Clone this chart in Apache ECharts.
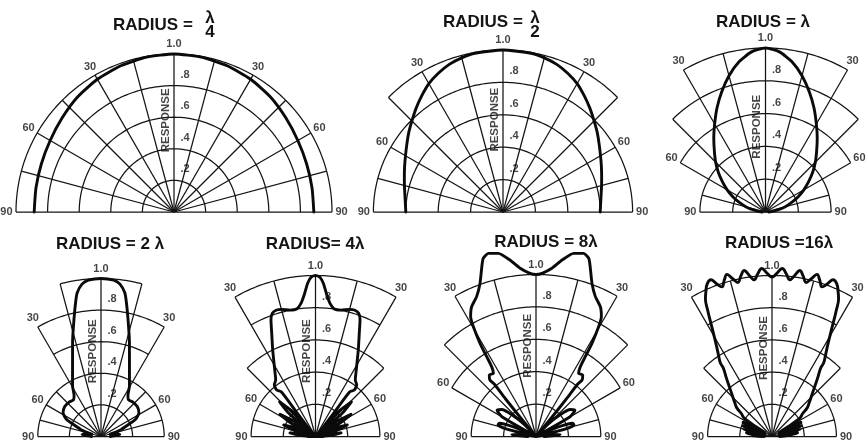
<!DOCTYPE html>
<html>
<head>
<meta charset="utf-8">
<script src="https://cdn.jsdelivr.net/npm/echarts@6/dist/echarts.min.js"></script>
<style>
html,body{margin:0;padding:0;background:#ffffff;}
#chart{width:868px;height:443px;}
</style>
</head>
<body>
<div id="chart"></div>
<script>
// ---------------- data ----------------
const tickValues = [0.2, 0.4, 0.6, 0.8];
const tickLabels = ['.2', '.4', '.6', '.8'];
const topTickValue = 1.0;
const topTickLabel = '1.0';
const degreeAngles = [30, 60];
const degreeLabels = ['30', '60'];
const edgeLabel = '90';
const axisTitle = 'RESPONSE';

// curve of each panel: angle (deg from axis) and response, right half, in drawing order
const ang1 = [0, 10, 20, 30, 40, 50, 60, 70, 80, 90];
const res1 = [1.0, 0.995, 0.985, 0.97, 0.95, 0.925, 0.905, 0.893, 0.887, 0.885];

const ang2 = [0, 10, 15, 20, 25, 30, 35, 40, 45, 50, 55, 60, 65, 70, 75, 80, 85, 90];
const res2 = [1.0, 0.995, 0.985, 0.97, 0.945, 0.915, 0.875, 0.835, 0.795, 0.76, 0.725, 0.695, 0.67, 0.648, 0.63, 0.615, 0.605, 0.60];

const ang3 = [0, 5, 10, 15, 20, 25, 30, 35, 40, 45, 50, 55, 60, 65, 70, 75, 80, 85, 90];
const res3 = [1.0, 0.98, 0.93, 0.86, 0.78, 0.70, 0.62, 0.55, 0.485, 0.43, 0.375, 0.32, 0.27, 0.22, 0.17, 0.125, 0.08, 0.045, 0.02];

const ang4 = [0, 4.6, 7.1, 9.4, 10.7, 12.8, 16.7, 21.8, 29.4, 33.2, 37, 42.3, 50.4, 58, 63.4, 66, 71.6, 76, 80, 84, 87, 90];
const res4 = [1.0, 0.993, 0.972, 0.922, 0.865, 0.769, 0.626, 0.485, 0.367, 0.311, 0.29, 0.297, 0.298, 0.283, 0.246, 0.197, 0.126, 0.06, 0.1, 0.12, 0.08, 0.06];

const ang5 = [0, 1.6, 3.0, 4.5, 6.3, 8.4, 11.4, 14.9, 17.1, 19.3, 20.9, 23, 26.3, 30.5, 35.2, 38.6, 39.9, 37.5, 37.7, 38.6, 40,
              43, 46, 49, 52, 55, 58, 61, 64, 67, 70, 73, 76, 79, 82, 85, 88, 90];
const res5 = [1.0, 0.99, 0.95, 0.885, 0.83, 0.80, 0.801, 0.817, 0.822, 0.811, 0.775, 0.696, 0.6, 0.503, 0.429, 0.41, 0.376, 0.35, 0.208, 0.105, 0.0,
              0.22, 0.31, 0.22, 0.0, 0.17, 0.26, 0.18, 0.0, 0.14, 0.21, 0.14, 0.0, 0.11, 0.16, 0.11, 0.0, 0.05];

const ang6 = [0, 2.1, 5.4, 8.4, 11.6, 14.6, 16.5, 17.7, 20.1, 23, 26.4, 28.6, 29.7, 31, 31.7, 32.4, 34, 37.2, 39.2, 38.5, 39, 39.5, 40,
              44, 48, 52, 56, 60, 64, 67, 70, 73, 76, 79, 82, 85, 88, 90];
const res6 = [1.0, 1.008, 1.043, 1.101, 1.154, 1.168, 1.147, 1.10, 1.006, 0.938, 0.894, 0.843, 0.781, 0.671, 0.579, 0.511, 0.47, 0.477, 0.45, 0.41, 0.3, 0.15, 0.0,
              0.1, 0.2, 0.27, 0.29, 0.24, 0.0, 0.15, 0.24, 0.245, 0.18, 0.0, 0.1, 0.15, 0.1, 0.05];

const ang7 = [0, 1.5, 3.5, 5, 6.5, 8, 9.5, 11, 12.5, 14, 15.5, 17, 18.5, 20, 21.3, 23, 24.5, 25.8, 27, 28, 29.5, 31.5, 33.5, 35, 35.5, 38, 41, 44, 48, 51, 53, 57,
              60, 62, 64, 66, 68, 70, 72, 74, 76, 78, 80, 82, 84, 86, 88, 90];
const res7 = [0.99, 1.01, 1.045, 1.015, 0.98, 1.01, 1.045, 1.015, 0.98, 1.01, 1.045, 1.015, 0.98, 1.01, 1.045, 1.03, 0.99, 0.95, 0.88, 0.82, 0.74, 0.66, 0.6, 0.56, 0.52, 0.46, 0.40, 0.355, 0.31, 0.28, 0.24, 0.2,
              0.05, 0.18, 0.2, 0.05, 0.17, 0.19, 0.05, 0.16, 0.18, 0.05, 0.15, 0.16, 0.04, 0.12, 0.12, 0.05];

const curveAngles = [ang1, ang2, ang3, ang4, ang5, ang6, ang7];
const curveValues = [res1, res2, res3, res4, res5, res6, res7];

// ---------------- layout (positions / grid extents / styles) ----------------
const ringsFull = [[0.2, 90], [0.4, 90], [0.6, 90], [0.8, 90], [1.0, 90]];
const ringsA = [[0.2, 90], [0.4, 90], [0.6, 90], [0.8, 90], [1.0, 45]];
const ringsB = [[0.2, 90], [0.4, 90], [0.6, 60], [0.8, 45], [1.0, 30]];
const ringsC = [[0.2, 90], [0.4, 90], [0.6, 30], [0.8, 30], [1.0, 15]];
const ringsD = [[0.2, 90], [0.4, 90], [0.6, 45], [0.8, 30], [1.0, 30]];

const layout = [
  { center: [174, 212], R: 158, rings: ringsFull, resp: 0.58, smooth: 0.2 },
  { center: [503, 212], R: 162, rings: ringsA, resp: 0.57, smooth: 0.2 },
  { center: [765.5, 212], R: 164, rings: ringsB, resp: 0.52, smooth: 0.2 },
  { center: [101, 436.5], R: 158, rings: ringsC, resp: 0.54, smooth: 0.2 },
  { center: [315.5, 436.5], R: 161, rings: ringsD, resp: 0.53, smooth: 0.2 },
  { center: [536, 436.5], R: 162, rings: ringsB, resp: 0.56, smooth: 0.2 },
  { center: [772, 436.5], R: 161, rings: ringsD, resp: 0.55, smooth: 0.45 }
];
const RMAX = 1.25; // radius axis extent (room for responses above 1.0)

const INK = '#141414';
const FONT = '"Liberation Sans", Arial, sans-serif';

function outerAt(rings, a) {
  let L = 0;
  rings.forEach(([rr, ext]) => { if (ext >= Math.abs(a) - 1e-9 && rr > L) L = rr; });
  return L;
}
function mirror(ang, res) {
  const out = [];
  for (let i = ang.length - 1; i >= 1; i--) out.push([res[i], -ang[i]]);
  for (let i = 0; i < ang.length; i++) out.push([res[i], ang[i]]);
  return out;
}
function gridLine(i, data) {
  return {
    type: 'line', coordinateSystem: 'polar', polarIndex: i, data: data,
    symbol: 'none', silent: true, clip: false, animation: false,
    lineStyle: { color: INK, width: 1.25 }, z: 2
  };
}

const polar = [], angleAxis = [], radiusAxis = [], series = [];
layout.forEach((p, i) => {
  polar.push({ center: p.center, radius: p.R * RMAX });
  angleAxis.push({ polarIndex: i, type: 'value', min: -180, max: 180, startAngle: 270, clockwise: true,
    axisLine: { show: false }, axisTick: { show: false }, axisLabel: { show: false }, splitLine: { show: false } });
  radiusAxis.push({ polarIndex: i, type: 'value', min: 0, max: RMAX,
    axisLine: { show: false }, axisTick: { show: false }, axisLabel: { show: false }, splitLine: { show: false } });

  // rings
  p.rings.forEach(([rr, ext]) => {
    const d = [];
    for (let a = -ext; a <= ext + 1e-9; a += 1) d.push([rr, a]);
    series.push(gridLine(i, d));
  });
  // radial lines every 15 degrees
  for (let a = -90; a <= 90; a += 15) {
    series.push(gridLine(i, [[0, a], [outerAt(p.rings, a), a]]));
  }
  // response curve
  series.push({
    type: 'line', coordinateSystem: 'polar', polarIndex: i,
    data: mirror(curveAngles[i], curveValues[i]),
    symbol: 'none', smooth: p.smooth, silent: true, clip: false, animation: false,
    lineStyle: { color: '#0a0a0a', width: 2.9, join: 'round', cap: 'round' }, z: 5
  });

  // labels
  const items = [];
  tickValues.forEach((v, k) => items.push({
    value: [v, 0], label: { formatter: tickLabels[k], position: 'insideBottomLeft', offset: [2, -1] }
  }));
  items.push({ value: [topTickValue, 0], label: { formatter: topTickLabel, position: 'top', distance: 4 } });
  items.push({ value: [p.resp, 0], label: { formatter: axisTitle, position: 'left', rotate: 90, align: 'center', verticalAlign: 'bottom', distance: 2, fontSize: 11.5 } });
  [-1, 1].forEach(s => {
    degreeAngles.forEach((a, k) => {
      const L = outerAt(p.rings, a);
      items.push({ value: [L + 10 / p.R, s * a], label: { formatter: degreeLabels[k], position: 'inside' } });
    });
    const L90 = outerAt(p.rings, 90);
    items.push({ value: [L90, s * 90], label: { formatter: edgeLabel, position: s < 0 ? 'left' : 'right', distance: 3 } });
  });
  series.push({
    type: 'scatter', coordinateSystem: 'polar', polarIndex: i, data: items,
    symbolSize: 1, itemStyle: { color: 'rgba(0,0,0,0)' }, silent: true, animation: false, clip: false, z: 6,
    label: { show: true, color: INK, fontWeight: 'bold', fontSize: 11, fontFamily: FONT }
  });
});

// ---------------- titles ----------------
const TF = 'bold 17px ' + FONT;
function txt(x, y, text, align) {
  return { type: 'text', x: x, y: y, silent: true,
    style: { text: text, font: TF, fill: INK, textAlign: align || 'left', textVerticalAlign: 'middle', align: align || 'left', verticalAlign: 'middle' } };
}
const graphic = [
  txt(113, 25, 'RADIUS ='),
  txt(210, 18, 'λ', 'center'),
  txt(210, 32, '4', 'center'),
  txt(443, 22, 'RADIUS ='),
  txt(535, 18, 'λ', 'center'),
  txt(535, 32, '2', 'center'),
  txt(716, 22, 'RADIUS = λ'),
  txt(110, 244, 'RADIUS = 2 λ', 'center'),
  txt(315, 244, 'RADIUS= 4λ', 'center'),
  txt(546, 242, 'RADIUS = 8λ', 'center'),
  txt(779, 243, 'RADIUS =16λ', 'center')
];

const chart = echarts.init(document.getElementById('chart'), null, { renderer: 'canvas' });
chart.setOption({
  backgroundColor: '#ffffff',
  animation: false,
  polar: polar,
  angleAxis: angleAxis,
  radiusAxis: radiusAxis,
  series: series,
  graphic: graphic
});
</script>
</body>
</html>
